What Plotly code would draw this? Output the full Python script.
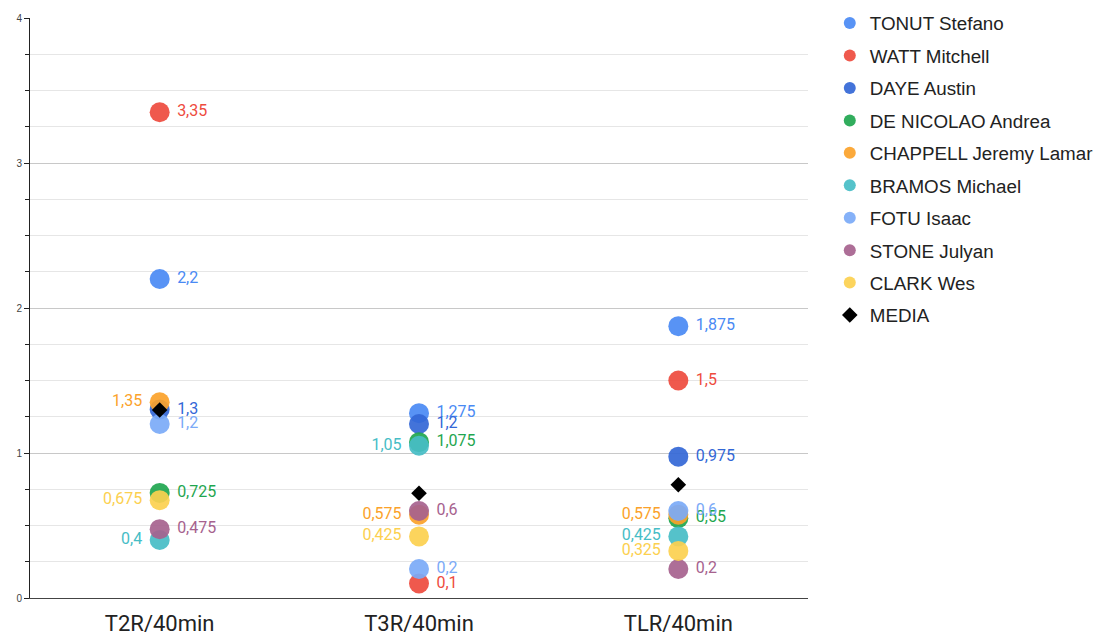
import plotly.graph_objects as go

categories = ["T2R/40min", "T3R/40min", "TLR/40min"]

players = [
    "TONUT Stefano", "WATT Mitchell", "DAYE Austin", "DE NICOLAO Andrea",
    "CHAPPELL Jeremy Lamar", "BRAMOS Michael", "FOTU Isaac", "STONE Julyan",
    "CLARK Wes",
]

tonut = [2.2, 1.275, 1.875]
watt = [3.35, 0.1, 1.5]
daye = [1.3, 1.2, 0.975]
de_nicolao = [0.725, 1.075, 0.55]
chappell = [1.35, 0.575, 0.575]
bramos = [0.4, 1.05, 0.425]
fotu = [1.2, 0.2, 0.6]
stone = [0.475, 0.6, 0.2]
clark = [0.675, 0.425, 0.325]
media = [1.297, 0.722, 0.781]

series_values = [tonut, watt, daye, de_nicolao, chappell, bramos, fotu, stone, clark]

colors = [
    "#4a8af4", "#ee4b3e", "#3367d6", "#1fa64f", "#fba22a",
    "#46bdc6", "#7baaf7", "#a6628e", "#fcd04f",
]
label_side = [
    "middle right", "middle right", "middle right", "middle right", "middle left",
    "middle left", "middle right", "middle right", "middle left",
]


def fmt(v):
    return ("%g" % v).replace(".", ",")


fig = go.Figure()
for i, (name, vals) in enumerate(zip(players, series_values)):
    fig.add_trace(go.Scatter(
        x=categories, y=vals, name=name, mode="markers+text",
        legendgroup=name,
        marker=dict(size=20, color=colors[i], opacity=0.92),
        text=[" " + fmt(v) + " " for v in vals], textposition=label_side[i],
        textfont=dict(family="Roboto", size=16, color=colors[i]),
        cliponaxis=False,
    ))

fig.add_trace(go.Scatter(
    x=categories, y=media, name="MEDIA", mode="markers", legendgroup="MEDIA",
    marker=dict(symbol="diamond", size=12, color="black"),
    cliponaxis=False,
))

fig.update_layout(
    width=1099, height=642,
    margin=dict(l=30, r=291, t=18, b=44, autoexpand=False),
    plot_bgcolor="white", paper_bgcolor="white",
    showlegend=True,
    legend=dict(
        x=1.028, y=1.0235, xanchor="left", yanchor="top",
        font=dict(family="Liberation Sans", size=18.8, color="#222222"),
        itemsizing="constant", tracegroupgap=5, maxheight=640,
        bgcolor="rgba(0,0,0,0)",
    ),
    xaxis=dict(
        type="category", range=[-0.5, 2.5], automargin=False,
        showgrid=False, showline=True, linecolor="#444444", linewidth=1,
        ticks="", tickfont=dict(family="Roboto", size=22, color="#222222"),
        ticklabelstandoff=6, zeroline=False,
    ),
    yaxis=dict(
        range=[0, 4], dtick=1, tick0=0, automargin=False,
        showline=True, linecolor="#222222", linewidth=1,
        ticks="outside", ticklen=5, tickcolor="#222222",
        tickfont=dict(family="Liberation Sans", size=10, color="#444444"),
        gridcolor="#c8c8c8", gridwidth=1, zeroline=False,
        minor=dict(dtick=0.25, ticks="outside", ticklen=4, tickcolor="#222222",
                   showgrid=True, gridcolor="#e6e6e6", gridwidth=1),
    ),
)

fig.write_html("out.html")
